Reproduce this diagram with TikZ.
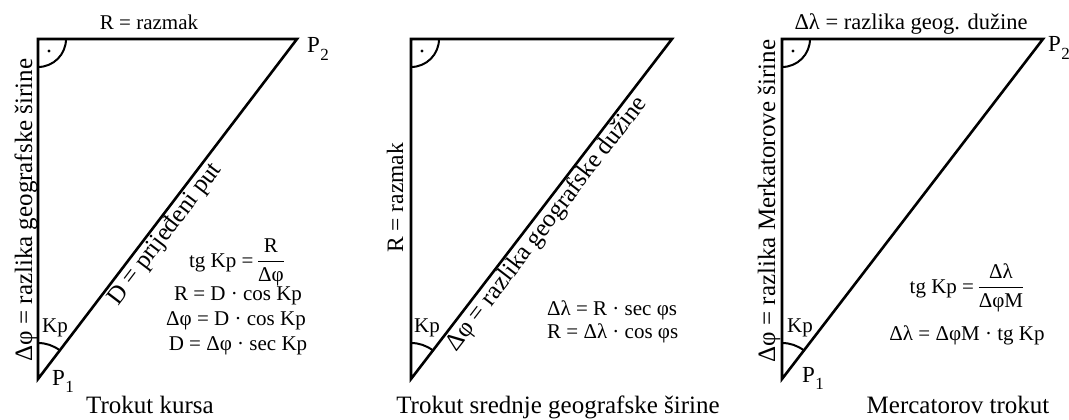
\documentclass[tikz,border=0pt]{standalone}
\usepackage{amsmath}
\usepackage{fontspec}
\setmainfont{Liberation Serif}
\newcommand\Psub[1]{P\kern0.3pt\raisebox{-0.32em}{\fontsize{17}{17}\selectfont #1}}
\begin{document}
\begin{tikzpicture}[x=1pt,y=1pt,line join=miter,
  side/.style={line width=2.6pt},
  arcline/.style={line width=2pt},
  lbl/.style={inner sep=0pt,font=\fontsize{21}{24}\selectfont},
  vlbl/.style={inner sep=0pt,font=\fontsize{24}{27}\selectfont,rotate=90,anchor=base},
  hyplbl/.style={inner sep=2pt,font=\fontsize{25}{28}\selectfont,sloped,anchor=north},
  plbl/.style={inner sep=0pt,font=\fontsize{23}{26}\selectfont,anchor=base west},
  captionlbl/.style={inner sep=0pt,font=\fontsize{25}{28}\selectfont,anchor=base},
]
\useasboundingbox (0,0) rectangle (1069,-420);

% ---------- Triangle 1: Trokut kursa ----------
\coordinate (A1) at (38,-39);
\coordinate (B1) at (297,-39);
\coordinate (C1) at (38,-379);
\draw[side] (C1) -- (A1) -- (B1) -- cycle;
\draw[arcline] (A1) ++(0,-28) arc[start angle=270,end angle=360,radius=28];
\fill (A1) ++(11,-12) circle (1.6);
\draw[arcline] (C1) ++(0,36) arc[start angle=90,end angle=52.7,radius=36];
\node[lbl,anchor=base] (r1) at (149,-30) {R = razmak};
\node[vlbl,font=\fontsize{25}{28}\selectfont] (d1) at (32,-210) {Δφ = razlika geografske širine};
\path (C1) -- (B1) node[hyplbl,pos=0.45] (h1) {D = prijeđeni put};
\node[lbl,anchor=base west] (k1) at (42,-332) {Kp};
\node[plbl] (p11) at (52,-385) {\Psub{1}};
\node[plbl] (p12) at (307,-53) {\Psub{2}};
\node[lbl,anchor=base] (f1a) at (237,-267) {tg Kp =\,$\dfrac{\text{R}}{\text{Δφ}}$};
\node[lbl,anchor=base] (f1b) at (238,-300) {R = D · cos Kp};
\node[lbl,anchor=base] (f1c) at (236,-325) {Δφ = D · cos Kp};
\node[lbl,anchor=base] (f1d) at (238,-350) {D = Δφ · sec Kp};
\node[captionlbl] (t1) at (150,-413) {Trokut kursa};

% ---------- Triangle 2: Trokut srednje geografske sirine ----------
\coordinate (A2) at (411,-39);
\coordinate (B2) at (672,-39);
\coordinate (C2) at (411,-379);
\draw[side] (C2) -- (A2) -- (B2) -- cycle;
\draw[arcline] (A2) ++(0,-28) arc[start angle=270,end angle=360,radius=28];
\fill (A2) ++(11,-12) circle (1.6);
\draw[arcline] (C2) ++(0,36) arc[start angle=90,end angle=52.5,radius=36];
\node[vlbl,font=\fontsize{23.5}{27}\selectfont] (d2) at (403,-198) {R = razmak};
\path (C2) -- (B2) node[hyplbl,pos=0.48] (h2) {Δφ = razlika geografske dužine};
\node[lbl,anchor=base west] (k2) at (414,-332) {Kp};
\node[lbl,anchor=base west] (f2a) at (547,-315) {Δλ = R · sec φs};
\node[lbl,anchor=base west] (f2b) at (547,-338) {R = Δλ · cos φs};
\node[captionlbl] (t2) at (558,-413) {Trokut srednje geografske širine};

% ---------- Triangle 3: Mercatorov trokut ----------
\coordinate (A3) at (782,-39);
\coordinate (B3) at (1043,-39);
\coordinate (C3) at (782,-379);
\draw[side] (C3) -- (A3) -- (B3) -- cycle;
\draw[arcline] (A3) ++(0,-28) arc[start angle=270,end angle=360,radius=28];
\fill (A3) ++(11,-12) circle (1.6);
\draw[arcline] (C3) ++(0,36) arc[start angle=90,end angle=52.5,radius=36];
\node[lbl,anchor=base,font=\fontsize{22.5}{26}\selectfont] (r3) at (911,-30) {Δλ = razlika geog. dužine};
\node[vlbl,font=\fontsize{25}{28}\selectfont] (d3) at (775,-201) {Δφ = razlika Merkatorove širine};
\node[lbl,anchor=base west] (k3) at (787,-332) {Kp};
\node[plbl] (p31) at (802,-382) {\Psub{1}};
\node[plbl] (p32) at (1048,-52) {\Psub{2}};
\node[lbl,anchor=base] (f3a) at (967,-293) {tg Kp =\,$\dfrac{\text{Δλ}}{\text{ΔφM}}$};
\node[lbl,anchor=base] (f3b) at (967,-340) {Δλ = ΔφM · tg Kp};
\node[captionlbl] (t3) at (958,-413) {Mercatorov trokut};
\end{tikzpicture}
\end{document}
